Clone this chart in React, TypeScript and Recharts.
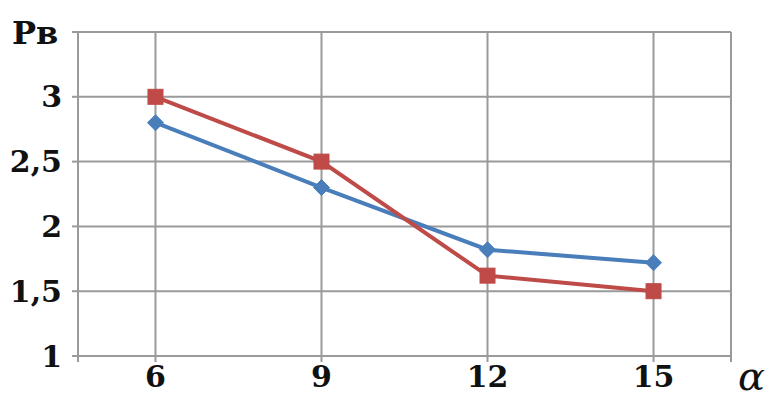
import React from 'react';
import { LineChart, Line, XAxis, YAxis, CartesianGrid } from 'recharts';

const categories = [6, 9, 12, 15];
const seriesBlue = [2.8, 2.3, 1.82, 1.72];
const seriesRed = [3.0, 2.5, 1.62, 1.5];
const yTicks = [1, 1.5, 2, 2.5, 3, 3.5];
const xDomain: [number, number] = [4.6, 16.4];
const xTicks = [4.6, 6, 9, 12, 15, 16.4];

const data = categories.map((c, i) => ({ a: c, blue: seriesBlue[i], red: seriesRed[i] }));

const BLUE = '#4a7ebb';
const RED = '#be4b48';
const GRID = '#9a9a9a';
const FONT = 'DejaVu Serif';

const Diamond = (props: any) => {
  const { cx, cy, index } = props;
  const s = 8;
  return (
    <path
      key={`d${index}`}
      d={`M${cx},${cy - s} L${cx + s},${cy} L${cx},${cy + s} L${cx - s},${cy} Z`}
      fill={BLUE}
      stroke={BLUE}
    />
  );
};

const Square = (props: any) => {
  const { cx, cy, index } = props;
  const s = 7.5;
  return <rect key={`s${index}`} x={cx - s} y={cy - s} width={2 * s} height={2 * s} fill={RED} stroke={RED} />;
};

const tickStyle = { fill: '#111', fontSize: 30, fontWeight: 'bold' as const, fontFamily: FONT };

export default function App() {
  return (
    <div style={{ position: 'absolute', left: 0, top: 0, width: 779, height: 411, background: '#fff' }}>
      <LineChart width={779} height={411} data={data} margin={{ top: 32, right: 48, left: 0, bottom: 0 }}>
        <CartesianGrid stroke={GRID} strokeWidth={2} horizontal vertical />
        <XAxis
          dataKey="a"
          type="number"
          domain={xDomain}
          ticks={xTicks}
          allowDataOverflow
          height={55}
          stroke={GRID}
          strokeWidth={2}
          tickSize={6}
          tickMargin={4}
          tick={tickStyle}
          tickFormatter={(v: number) => (categories.includes(v) ? String(v) : '')}
        />
        <YAxis
          type="number"
          domain={[1, 3.5]}
          ticks={yTicks}
          width={78}
          stroke={GRID}
          strokeWidth={2}
          tickSize={6}
          tickMargin={10}
          tick={tickStyle}
          tickFormatter={(v: number) => (v === 3.5 ? '' : String(v).replace('.', ','))}
        />
        <Line
          type="linear"
          dataKey="blue"
          stroke={BLUE}
          strokeWidth={4}
          dot={Diamond}
          isAnimationActive={false}
        />
        <Line
          type="linear"
          dataKey="red"
          stroke={RED}
          strokeWidth={4}
          dot={Square}
          isAnimationActive={false}
        />
        <text x={12} y={44} fontFamily={FONT} fontWeight="bold" fontSize={32} fill="#111">
          Рв
        </text>
        <text x={738} y={390} fontFamily={FONT} fontStyle="italic" fontSize={40} fill="#111">
          α
        </text>
      </LineChart>
    </div>
  );
}
